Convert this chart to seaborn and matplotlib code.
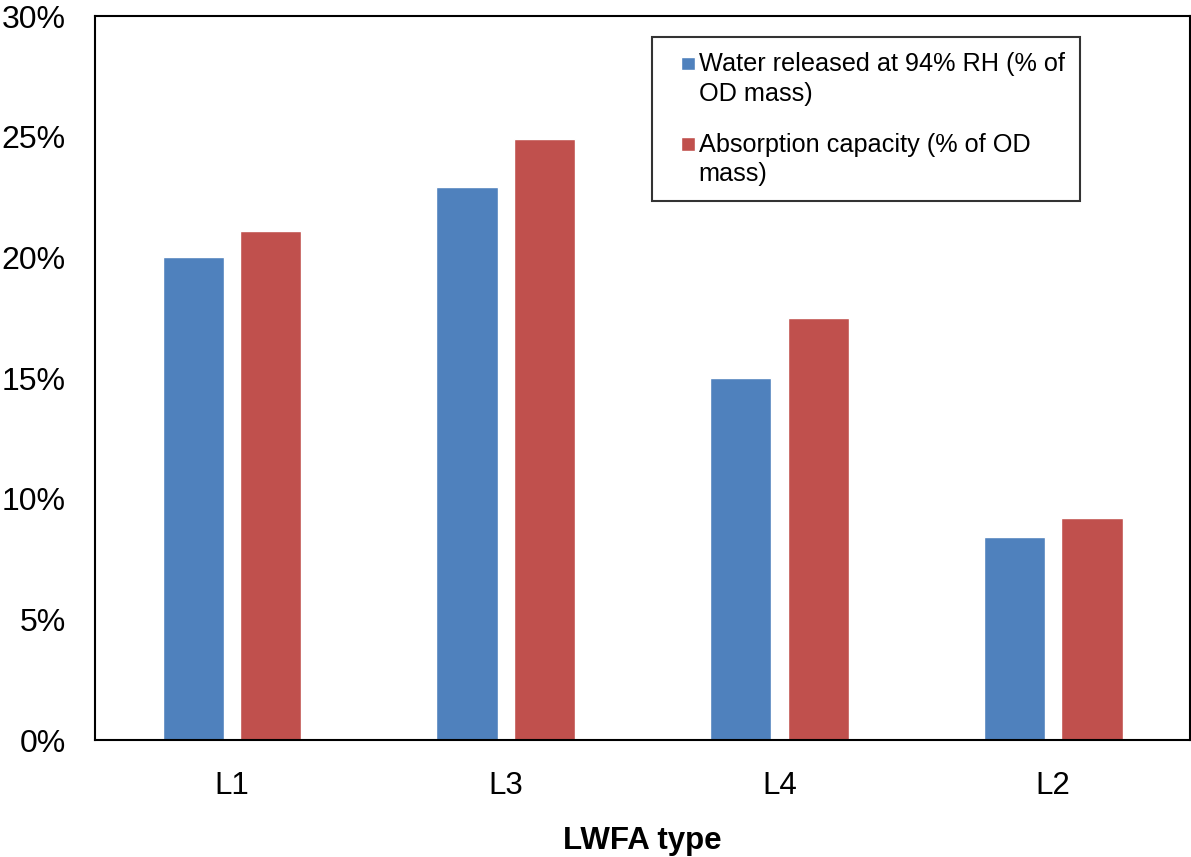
import matplotlib
matplotlib.use("Agg")
import matplotlib.pyplot as plt
import matplotlib.patches as mpatches
from matplotlib.legend_handler import HandlerPatch
import seaborn as sns
import pandas as pd
from matplotlib.ticker import PercentFormatter

categories = ["L1", "L3", "L4", "L2"]
water_released = [20.0, 22.9, 15.0, 8.4]
absorption_capacity = [21.1, 24.9, 17.5, 9.2]
series_names = ["Water released at 94% RH (% of\nOD mass)",
                "Absorption capacity (% of OD\nmass)"]
yticks = [0, 5, 10, 15, 20, 25, 30]

df = pd.DataFrame({
    "type": categories * 2,
    "value": water_released + absorption_capacity,
    "series": [series_names[0]] * 4 + [series_names[1]] * 4,
})

sns.set_style("white")
plt.rcParams["font.family"] = ["Liberation Sans", "DejaVu Sans"]
plt.rcParams["text.color"] = "black"
plt.rcParams["axes.labelcolor"] = "black"
plt.rcParams["xtick.color"] = "black"
plt.rcParams["ytick.color"] = "black"

fig = plt.figure(figsize=(11.91, 8.57), dpi=100)
ax = fig.add_axes([0.0798, 0.1365, 0.9194, 0.8448])

sns.barplot(data=df, x="type", y="value", hue="series", order=categories,
            hue_order=series_names, palette=["#4F81BD", "#C0504D"],
            width=0.566, gap=0.21, ax=ax, saturation=1)

ax.set_ylim(0, 30)
ax.set_xlim(-0.5, 3.5)
ax.set_yticks(yticks)
ax.yaxis.set_major_formatter(PercentFormatter(decimals=0))
ax.tick_params(axis="both", length=0)
ax.tick_params(axis="x", labelsize=22.5, pad=22)
ax.tick_params(axis="y", labelsize=23, pad=21)
ax.set_ylabel("")
ax.set_xlabel("LWFA type", fontsize=22.5, fontweight="bold", labelpad=18)
for s in ax.spines.values():
    s.set_visible(True)
    s.set_color("black")
    s.set_linewidth(1.5)


def first_line_square(legend, orig_handle, xdescent, ydescent, width, height, fontsize):
    # small square key placed beside the first line of a two-line label
    size = 0.52 * fontsize
    yc = -ydescent + height / 2 + 0.64 * fontsize
    return mpatches.Rectangle((-xdescent + width - size, yc - size / 2), size, size)


handles, labels = ax.get_legend_handles_labels()
handler = HandlerPatch(patch_func=first_line_square)
leg = ax.legend(handles, labels, loc="upper left", bbox_to_anchor=(0.5087, 0.971),
                fontsize=18.2, frameon=True, fancybox=False, edgecolor="black",
                handlelength=1.08, handleheight=0.7, handletextpad=0.16,
                labelspacing=1.08, borderpad=0.6, borderaxespad=0,
                handler_map={h: handler for h in handles})
leg.get_frame().set_linewidth(1.5)
for t in leg.get_texts():
    t.set_color("black")
    t.set_linespacing(1.28)

fig.savefig("out.png", dpi=100)
